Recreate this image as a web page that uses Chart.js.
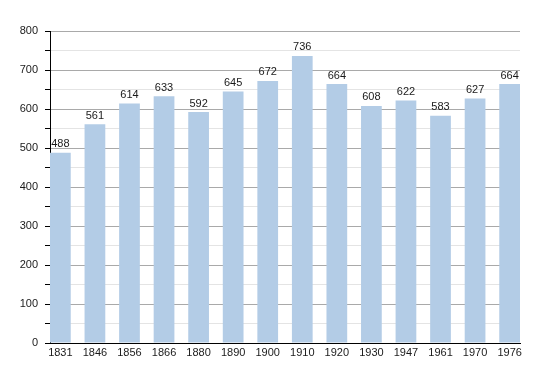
<!DOCTYPE html>
<html>
<head>
<meta charset="utf-8">
<script src="https://cdn.jsdelivr.net/npm/chart.js@4"></script>
<style>
  html, body { margin: 0; padding: 0; background: #fff; }
  canvas { display: block; }
</style>
</head>
<body>
<canvas id="popChart" width="550" height="373"></canvas>
<script>
// data
const years = ['1831', '1846', '1856', '1866', '1880', '1890', '1900', '1910', '1920', '1930', '1947', '1961', '1970', '1976'];
const population = [488, 561, 614, 633, 592, 645, 672, 736, 664, 608, 622, 583, 627, 664];
const yTicks = [0, 100, 200, 300, 400, 500, 600, 700, 800];

// value over each bar
const valueLabels = {
    id: 'valueLabels',
    afterDatasetsDraw(chart) {
        const ctx = chart.ctx;
        const meta = chart.getDatasetMeta(0);
        ctx.save();
        ctx.font = '11px "Liberation Sans", Arial, sans-serif';
        ctx.fillStyle = '#1a1a1a';
        ctx.textAlign = 'center';
        ctx.textBaseline = 'bottom';
        meta.data.forEach((bar, i) => {
            ctx.fillText(population[i], bar.x, bar.y - 3);
        });
        ctx.restore();
    }
};

const ctx = document.getElementById('popChart').getContext('2d');
new Chart(ctx, {
    type: 'bar',
    data: {
        datasets: [{
            data: population.map((v, i) => ({ x: i, y: v })),
            backgroundColor: '#b3cce6',
            borderWidth: 0,
            barPercentage: 1,
            categoryPercentage: 0.6
        }]
    },
    options: {
        responsive: false,
        animation: false,
        layout: {
            padding: { left: 0, right: 30, top: 31, bottom: 0 }
        },
        plugins: {
            legend: { display: false },
            tooltip: { enabled: false }
        },
        scales: {
            x: {
                type: 'linear',
                offset: false,
                min: -0.3,
                max: years.length - 0.7,
                afterBuildTicks: (scale) => {
                    scale.ticks = years.map((_, i) => ({ value: i }));
                },
                afterFit: (scale) => { scale.height = 30; },
                grid: { display: false, drawTicks: false },
                border: { display: true, color: '#000', width: 1 },
                ticks: {
                    autoSkip: false,
                    maxRotation: 0,
                    padding: 3,
                    color: '#1a1a1a',
                    font: { family: '"Liberation Sans", Arial, sans-serif', size: 11 },
                    callback: (v) => years[v]
                }
            },
            y: {
                min: 0,
                max: 800,
                afterBuildTicks: (scale) => {
                    const t = [];
                    for (let v = 0; v <= 800; v += 50) t.push({ value: v });
                    scale.ticks = t;
                },
                afterFit: (scale) => { scale.width = 50; },
                grid: {
                    color: (c) => (c.tick && c.tick.value % 100 === 0) ? '#a9a9a9' : '#e4e4e4',
                    tickColor: '#000',
                    tickLength: 5
                },
                border: { display: true, color: '#000', width: 1 },
                ticks: {
                    padding: 7,
                    color: '#1a1a1a',
                    font: { family: '"Liberation Sans", Arial, sans-serif', size: 11 },
                    callback: (v) => yTicks.includes(v) ? v : ''
                }
            }
        }
    },
    plugins: [valueLabels]
});
</script>
</body>
</html>
